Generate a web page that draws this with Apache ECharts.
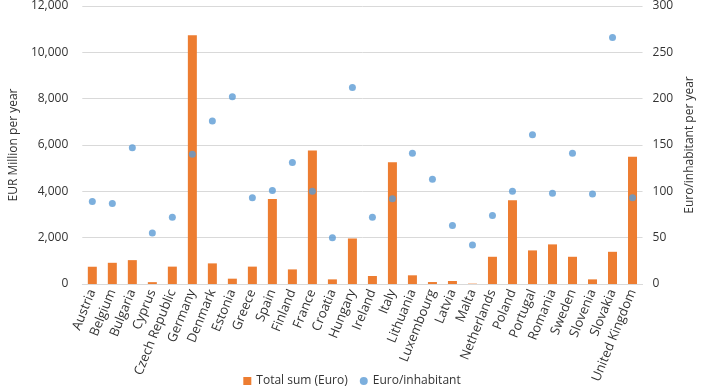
<!DOCTYPE html>
<html><head><meta charset="utf-8">
<script src="https://cdn.jsdelivr.net/npm/echarts@6/dist/echarts.min.js"></script>
<style>html,body{margin:0;padding:0;background:#fff}#c{width:704px;height:392px}</style>
</head><body><div id="c"></div>
<script>
const countries = ["Austria","Belgium","Bulgaria","Cyprus","Czech Republic","Germany","Denmark","Estonia","Greece","Spain","Finland","France","Croatia","Hungary","Ireland","Italy","Lithuania","Luxembourg","Latvia","Malta","Netherlands","Poland","Portugal","Romania","Sweden","Slovenia","Slovakia","United Kingdom"];
const totalSum = [745,915,1030,80,750,10740,890,230,750,3670,630,5765,200,1965,345,5260,375,85,130,15,1175,3615,1450,1710,1175,200,1390,5490];
const perInhabitant = [89,87,147,55,72,140,176,202,93,101,131,100,50,212,72,92,141,113,63,42,74,100,161,98,141,97,266,93];
const leftTicks = {min:0,max:12000,interval:2000};
const rightTicks = {min:0,max:300,interval:50};

const font = "'Open Sans', 'Noto Sans', sans-serif";
const chart = echarts.init(document.getElementById('c'), null, {renderer:'canvas'});
chart.setOption({
  animation:false,
  textStyle:{fontFamily:font},
  grid:{left:71,right:60,top:5,bottom:108},
  legend:{
    bottom:0,left:'center',itemWidth:8,itemHeight:8,itemGap:12,
    textStyle:{fontFamily:font,fontSize:12,color:'#333'},
    data:[{name:'Total sum (Euro)',icon:'rect'},{name:'Euro/inhabitant',icon:'circle'}]
  },
  xAxis:{
    type:'category',data:countries,
    axisTick:{show:false},
    axisLine:{lineStyle:{color:'#D9D9D9'}},
    axisLabel:{rotate:68,interval:0,fontSize:13,color:'#333',margin:6,fontFamily:font}
  },
  yAxis:[{
    type:'value',min:leftTicks.min,max:leftTicks.max,interval:leftTicks.interval,
    name:'EUR Million per year',nameLocation:'middle',nameGap:57,nameRotate:90,
    nameTextStyle:{fontSize:12,color:'#333',fontFamily:font},
    axisLabel:{fontSize:12,color:'#333',margin:14,fontFamily:font,
      formatter:v=>v.toLocaleString('en-US')},
    splitLine:{lineStyle:{color:'#D9D9D9'}},
    axisLine:{show:false},axisTick:{show:false}
  },{
    type:'value',min:rightTicks.min,max:rightTicks.max,interval:rightTicks.interval,
    name:'Euro/inhabitant per year',nameLocation:'middle',nameGap:40,nameRotate:90,
    nameTextStyle:{fontSize:12,color:'#333',fontFamily:font},
    axisLabel:{fontSize:12,color:'#333',margin:10,fontFamily:font},
    splitLine:{show:false},axisLine:{show:false},axisTick:{show:false}
  }],
  series:[{
    name:'Total sum (Euro)',type:'bar',data:totalSum,barWidth:9,
    itemStyle:{color:'#ED7D31'}
  },{
    name:'Euro/inhabitant',type:'scatter',yAxisIndex:1,data:perInhabitant,
    symbolSize:7,itemStyle:{color:'#5B9BD5'}
  }]
});
</script></body></html>
